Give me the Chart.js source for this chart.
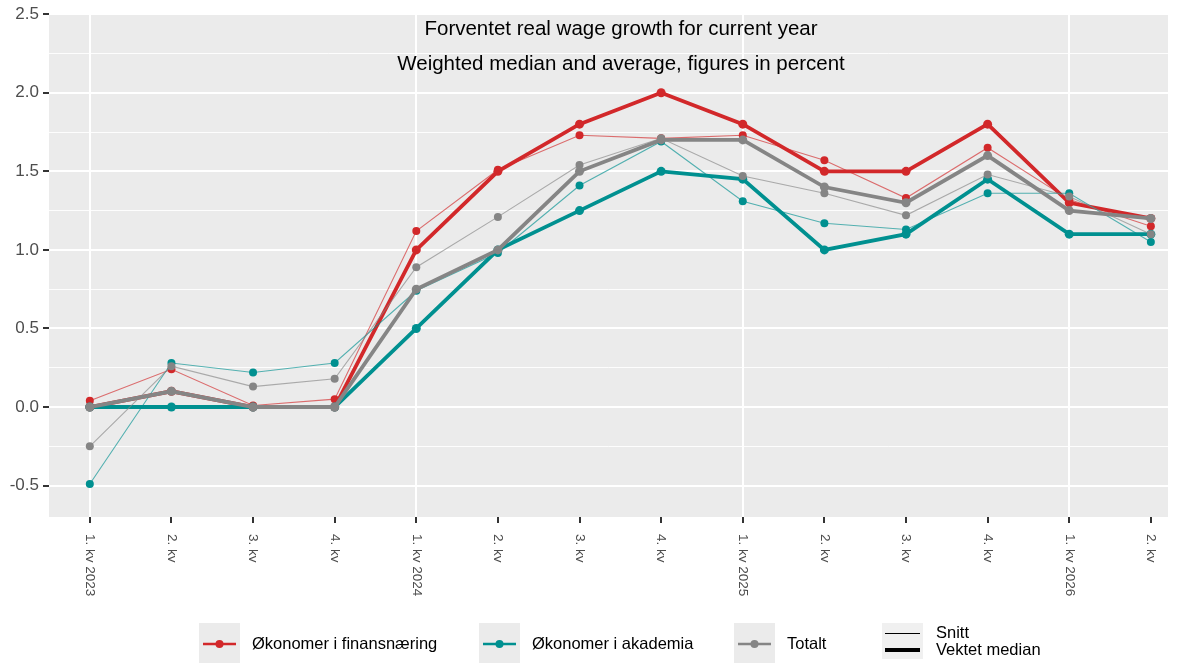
<!DOCTYPE html>
<html>
<head>
<meta charset="utf-8">
<script src="https://cdn.jsdelivr.net/npm/chart.js@4"></script>
<style>
  body { margin: 0; background: #fff; }
  #wrap { width: 1189px; height: 663px; }
</style>
</head>
<body>
<div id="wrap"><canvas id="wageChart" width="1189" height="663"></canvas></div>
<script>
// ===== DATA =====
const quarters = ['1. kv 2023', '2. kv', '3. kv', '4. kv',
                  '1. kv 2024', '2. kv', '3. kv', '4. kv',
                  '1. kv 2025', '2. kv', '3. kv', '4. kv',
                  '1. kv 2026', '2. kv'];

// Vektet median (thick) and snitt (thin), percent
const finansMedian   = [0, 0.1, 0, 0, 1.0, 1.5, 1.8, 2.0, 1.8, 1.5, 1.5, 1.8, 1.3, 1.2];
const finansSnitt    = [0.04, 0.24, 0.01, 0.05, 1.12, 1.51, 1.73, 1.71, 1.73, 1.57, 1.33, 1.65, 1.32, 1.15];
const akademiaMedian = [0, 0, 0, 0, 0.5, 1.0, 1.25, 1.5, 1.45, 1.0, 1.1, 1.45, 1.1, 1.1];
const akademiaSnitt  = [-0.49, 0.28, 0.22, 0.28, 0.74, 0.98, 1.41, 1.69, 1.31, 1.17, 1.13, 1.36, 1.36, 1.05];
const totaltMedian   = [0, 0.1, 0, 0, 0.75, 1.0, 1.5, 1.7, 1.7, 1.4, 1.3, 1.6, 1.25, 1.2];
const totaltSnitt    = [-0.25, 0.26, 0.13, 0.18, 0.89, 1.21, 1.54, 1.71, 1.47, 1.36, 1.22, 1.48, 1.34, 1.1];

// axis ticks
const yMajorTicks = [-0.5, 0, 0.5, 1.0, 1.5, 2.0, 2.5];
const yMinorTicks = [-0.25, 0.25, 0.75, 1.25, 1.75, 2.25];
const yearStarts  = [0, 4, 8, 12];

const titleLines = ['Forventet real wage growth for current year',
                    'Weighted median and average, figures in percent'];

// ===== STYLE =====
const COLORS = {
  red: '#d2282a',
  teal: '#009090',
  grey: '#858585',
  panel: '#ebebeb',
  text: '#4d4d4d',
  tick: '#333333'
};
const FONT = "'Liberation Sans', Arial, sans-serif";

function fade(hex, a) {
  const n = parseInt(hex.slice(1), 16);
  return `rgba(${n >> 16}, ${(n >> 8) & 255}, ${n & 255}, ${a})`;
}

function toPoints(values) {
  return values.map((v, i) => ({ x: i, y: v }));
}

function thinSet(label, values, color, order) {
  return {
    label, data: toPoints(values), order,
    borderColor: fade(color, 0.65), borderWidth: 1.1,
    pointRadius: 4, pointBackgroundColor: color, pointBorderWidth: 0,
    pointHoverRadius: 4
  };
}
function thickSet(label, values, color, order) {
  return {
    label, data: toPoints(values), order,
    borderColor: color, borderWidth: 3.8,
    pointRadius: 4.5, pointBackgroundColor: color, pointBorderWidth: 0,
    pointHoverRadius: 4.5
  };
}

// ===== PLUGINS =====
const panelPlugin = {
  id: 'panel',
  beforeDraw(chart) {
    const { ctx, chartArea: a } = chart;
    ctx.save();
    ctx.fillStyle = COLORS.panel;
    ctx.fillRect(a.left, a.top, a.right - a.left, a.bottom - a.top);
    ctx.restore();
  }
};

const annotatePlugin = {
  id: 'annotate',
  beforeDatasetsDraw(chart) {
    // title inside the panel
    const { ctx } = chart;
    ctx.save();
    ctx.fillStyle = '#000';
    ctx.font = `20.5px ${FONT}`;
    ctx.textAlign = 'center';
    ctx.textBaseline = 'alphabetic';
    ctx.fillText(titleLines[0], 621, 35);
    ctx.fillText(titleLines[1], 621, 70);
    ctx.restore();
  },
  afterDraw(chart) {
    const { ctx, chartArea: a } = chart;
    const xs = chart.scales.x;

    // rotated x tick labels (reading downwards)
    ctx.save();
    ctx.fillStyle = COLORS.text;
    ctx.font = `13.5px ${FONT}`;
    ctx.textAlign = 'left';
    ctx.textBaseline = 'middle';
    quarters.forEach((q, i) => {
      ctx.save();
      ctx.translate(xs.getPixelForValue(i), a.bottom + 17);
      ctx.rotate(Math.PI / 2);
      ctx.fillText(q, 0, 0);
      ctx.restore();
    });
    ctx.restore();

    // legend
    const keyY = 623, keyH = 40, keyW = 41;
    const items = [
      { x: 199, text: 'Økonomer i finansnæring', color: COLORS.red },
      { x: 479, text: 'Økonomer i akademia', color: COLORS.teal },
      { x: 734, text: 'Totalt', color: COLORS.grey }
    ];
    ctx.save();
    ctx.font = `16.5px ${FONT}`;
    ctx.textBaseline = 'middle';
    items.forEach(it => {
      ctx.fillStyle = COLORS.panel;
      ctx.fillRect(it.x, keyY, keyW, keyH);
      const cy = keyY + keyH / 2 + 1;
      ctx.strokeStyle = it.color;
      ctx.lineWidth = 2.5;
      ctx.beginPath();
      ctx.moveTo(it.x + 4, cy);
      ctx.lineTo(it.x + keyW - 4, cy);
      ctx.stroke();
      ctx.fillStyle = it.color;
      ctx.beginPath();
      ctx.arc(it.x + keyW / 2, cy, 4, 0, Math.PI * 2);
      ctx.fill();
      ctx.fillStyle = '#000';
      ctx.fillText(it.text, it.x + keyW + 12, cy);
    });

    // linetype key
    const lx = 882;
    ctx.fillStyle = '#f0f0f0';
    ctx.fillRect(lx, keyY, keyW, 36);
    ctx.strokeStyle = '#000';
    ctx.lineWidth = 1;
    ctx.beginPath();
    ctx.moveTo(lx + 3, 633.5); ctx.lineTo(lx + keyW - 3, 633.5);
    ctx.stroke();
    ctx.lineWidth = 3.8;
    ctx.beginPath();
    ctx.moveTo(lx + 3, 650); ctx.lineTo(lx + keyW - 3, 650);
    ctx.stroke();
    ctx.fillStyle = '#000';
    ctx.fillText('Snitt', 936, 633);
    ctx.fillText('Vektet median', 936, 650);
    ctx.restore();
  }
};

// ===== CHART =====
const config = {
  type: 'line',
  data: {
    datasets: [
      thinSet('Økonomer i finansnæring – snitt', finansSnitt, COLORS.red, 6),
      thickSet('Økonomer i finansnæring – vektet median', finansMedian, COLORS.red, 5),
      thinSet('Økonomer i akademia – snitt', akademiaSnitt, COLORS.teal, 4),
      thickSet('Økonomer i akademia – vektet median', akademiaMedian, COLORS.teal, 3),
      thinSet('Totalt – snitt', totaltSnitt, COLORS.grey, 2),
      thickSet('Totalt – vektet median', totaltMedian, COLORS.grey, 1)
    ]
  },
  options: {
    responsive: false,
    animation: false,
    layout: { padding: { top: 12, right: 21, left: 0, bottom: 0 } },
    plugins: {
      legend: { display: false },
      title: { display: false },
      tooltip: { enabled: false }
    },
    scales: {
      x: {
        type: 'linear',
        min: -0.5,
        max: 13.21,
        afterBuildTicks: (s) => { s.ticks = quarters.map((q, i) => ({ value: i })); },
        afterFit: (s) => { s.height = 146; },
        border: { display: false },
        grid: {
          color: (c) => yearStarts.includes(c.tick && c.tick.value) ? '#ffffff' : 'rgba(0,0,0,0)',
          lineWidth: 2,
          tickColor: COLORS.tick,
          tickLength: 6,
          drawTicks: true
        },
        ticks: { display: false }
      },
      y: {
        min: -0.7,
        max: 2.5,
        afterBuildTicks: (s) => {
          s.ticks = yMajorTicks.concat(yMinorTicks).sort((a, b) => a - b).map(v => ({ value: v }));
        },
        afterFit: (s) => { s.width = 49; },
        border: { display: false },
        grid: {
          color: '#ffffff',
          lineWidth: (c) => yMajorTicks.includes(c.tick && c.tick.value) ? 2 : 0.9,
          tickColor: (c) => yMajorTicks.includes(c.tick && c.tick.value) ? COLORS.tick : 'rgba(0,0,0,0)',
          tickLength: 6
        },
        ticks: {
          color: COLORS.text,
          font: { family: FONT, size: 17 },
          padding: 4,
          autoSkip: false,
          callback: (v) => yMajorTicks.includes(v) ? v.toFixed(1) : ''
        }
      }
    }
  },
  plugins: [panelPlugin, annotatePlugin]
};

new Chart(document.getElementById('wageChart'), config);
</script>
</body>
</html>
